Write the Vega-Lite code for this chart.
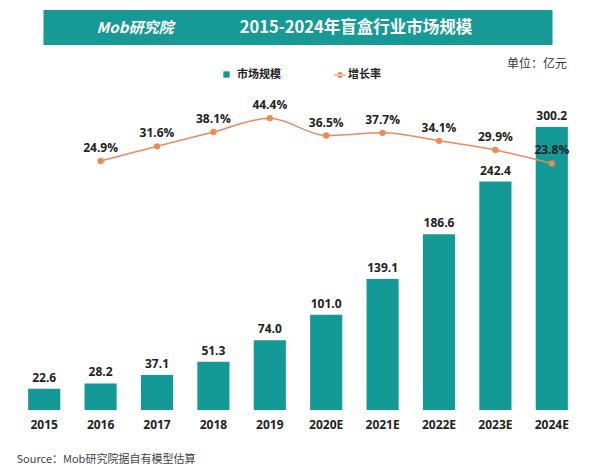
{
  "$schema": "https://vega.github.io/schema/vega-lite/v6.json",
  "background": "white",
  "padding": {"left": 16, "top": 10, "right": 0, "bottom": 0},
  "config": {"font": "Open Sans, Noto Sans CJK SC", "view": {"stroke": null}},
  "bounds": "flush",
  "center": true,
  "spacing": 54,
  "datasets": {
    "header": [{"title": "2015-2024年盲盒行业市场规模", "logo": "Mob研究院"}],
    "main": [
      {"year": "2015", "value": 22.6, "rate": null},
      {"year": "2016", "value": 28.2, "rate": 0.249},
      {"year": "2017", "value": 37.1, "rate": 0.316},
      {"year": "2018", "value": 51.3, "rate": 0.381},
      {"year": "2019", "value": 74.0, "rate": 0.444},
      {"year": "2020E", "value": 101.0, "rate": 0.365},
      {"year": "2021E", "value": 139.1, "rate": 0.377},
      {"year": "2022E", "value": 186.6, "rate": 0.341},
      {"year": "2023E", "value": 242.4, "rate": 0.299},
      {"year": "2024E", "value": 300.2, "rate": 0.238}
    ]
  },
  "vconcat": [
    {
      "width": 509,
      "height": 35,
      "view": {"fill": "#179a95", "stroke": null},
      "data": {"name": "header"},
      "layer": [
        {
          "mark": {"type": "text", "color": "white", "fontSize": 16.5, "fontWeight": "bold", "dx": 58, "font": "Noto Sans CJK SC"},
          "encoding": {"text": {"field": "title"}}
        },
        {
          "mark": {"type": "text", "color": "white", "fontSize": 15, "fontStyle": "italic", "fontWeight": "bold", "dx": -163, "font": "Noto Sans CJK SC"},
          "encoding": {"text": {"field": "logo"}}
        }
      ]
    },
    {
      "width": 564,
      "height": 311,
      "data": {"name": "main"},
      "title": {"text": "单位：亿元", "anchor": "end", "offset": 28, "dx": -13, "fontSize": 12, "fontWeight": "normal", "color": "#333", "font": "Noto Sans CJK SC"},
      "encoding": {
        "x": {
          "field": "year", "type": "nominal", "sort": null,
          "scale": {"paddingInner": 0.43, "paddingOuter": 0.215},
          "axis": {
            "labelFontSize": 12, "labelFontWeight": "bold", "labelColor": "#222", "labelAngle": 0,
            "ticks": false, "domain": false, "labelPadding": 9,
            "title": "Source：Mob研究院据自有模型估算",
            "titleFontSize": 11, "titleFontWeight": "normal", "titleColor": "#444",
            "titleAnchor": "start", "titleAlign": "left", "titlePadding": 23,
            "titleFont": "Noto Sans CJK SC"
          }
        }
      },
      "layer": [
        {
          "layer": [
            {
              "mark": {"type": "bar"},
              "encoding": {
                "y": {"field": "value", "type": "quantitative", "scale": {"domain": [0, 330]}, "axis": null},
                "fill": {
                  "datum": "市场规模",
                  "scale": {"range": ["#149a96"]},
                  "legend": {
                    "title": null, "orient": "none", "legendX": 205, "legendY": 59, "padding": 0,
                    "symbolType": "square", "symbolSize": 40, "labelFontSize": 11, "labelFontWeight": "bold",
                    "labelColor": "#222", "labelOffset": 5, "labelFont": "Noto Sans CJK SC"
                  }
                }
              }
            },
            {
              "mark": {"type": "text", "baseline": "middle", "dy": -11, "fontSize": 12, "fontWeight": "bold", "color": "#222"},
              "encoding": {
                "y": {"field": "value", "type": "quantitative", "scale": {"domain": [0, 330]}, "axis": null},
                "text": {"field": "value", "type": "quantitative", "format": ".1f"}
              }
            }
          ]
        },
        {
          "transform": [{"filter": "isValid(datum.rate)"}],
          "layer": [
            {
              "mark": {"type": "line", "interpolate": "monotone", "strokeWidth": 1.5},
              "encoding": {
                "y": {"field": "rate", "type": "quantitative", "scale": {"domain": [-0.883, 0.531]}, "axis": null},
                "stroke": {
                  "datum": "增长率",
                  "scale": {"range": ["#e98b5c"]},
                  "legend": {
                    "title": null, "orient": "none", "legendX": 318, "legendY": 59, "padding": 0,
                    "symbolType": "M-1,-0.1L1,-0.1L1,0.1L-1,0.1Z M-0.5,0A0.5,0.5 0 1,0 0.5,0A0.5,0.5 0 1,0 -0.5,0Z",
                    "symbolSize": 144, "labelFontSize": 11, "labelFontWeight": "bold",
                    "labelColor": "#222", "labelOffset": 2, "labelFont": "Noto Sans CJK SC",
                    "encode": {"symbols": {"update": {"fill": {"value": "#ec8a52"}, "strokeWidth": {"value": 0}}}}
                  }
                }
              }
            },
            {
              "mark": {"type": "point", "filled": true, "size": 40, "color": "#ec8a52", "opacity": 1},
              "encoding": {
                "y": {"field": "rate", "type": "quantitative", "scale": {"domain": [-0.883, 0.531]}, "axis": null}
              }
            },
            {
              "mark": {"type": "text", "baseline": "middle", "dy": -13, "fontSize": 12, "fontWeight": "bold", "color": "#222"},
              "encoding": {
                "y": {"field": "rate", "type": "quantitative", "scale": {"domain": [-0.883, 0.531]}, "axis": null},
                "text": {"field": "rate", "type": "quantitative", "format": ".1%"}
              }
            }
          ]
        }
      ],
      "resolve": {"scale": {"y": "independent"}}
    }
  ]
}
